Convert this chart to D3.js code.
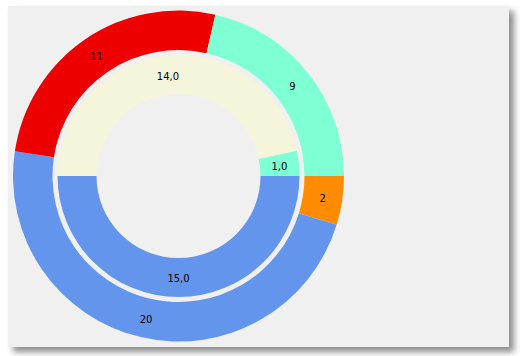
<!DOCTYPE html>
<html><head><meta charset="utf-8">
<script src="https://cdn.jsdelivr.net/npm/d3@7"></script>
<style>
html,body{margin:0;padding:0;background:#ffffff;}
svg{display:block;}
</style></head>
<body>
<script>
// Outer ring
const outerLabels = ["2", "20", "11", "9"];
const outerValues = [2, 20, 11, 9];
const outerColors = ["#ff8c00", "#6495ed", "#ef0000", "#7fffd4"];
// Inner ring
const innerLabels = ["15,0", "14,0", "1,0"];
const innerValues = [15, 14, 1];
const innerColors = ["#6495ed", "#f5f5dc", "#7fffd4"];

const W = 520, H = 356;
const svg = d3.select("body").append("svg").attr("width", W).attr("height", H);
const defs = svg.append("defs");
const f = defs.append("filter").attr("id", "sh").attr("x", "-5%").attr("y", "-5%").attr("width", "115%").attr("height", "115%");
f.append("feDropShadow").attr("dx", 5).attr("dy", 5).attr("stdDeviation", 3).attr("flood-color", "#000").attr("flood-opacity", 0.45);

svg.append("rect").attr("x", 8).attr("y", 6).attr("width", 501).attr("height", 341)
  .attr("fill", "#f0f0f0").attr("filter", "url(#sh)");

const cx = 178.5, cy = 176;
const g = svg.append("g").attr("transform", `translate(${cx},${cy})`);

function ring(values, labels, colors, r0, r1) {
  const pie = d3.pie().sort(null).startAngle(Math.PI / 2).endAngle(Math.PI / 2 + 2 * Math.PI);
  const arcs = pie(values);
  const arc = d3.arc().innerRadius(r0).outerRadius(r1);
  const gg = g.append("g");
  gg.selectAll("path").data(arcs).join("path")
    .attr("d", arc).attr("fill", (d, i) => colors[i]);
  gg.selectAll("text").data(arcs).join("text")
    .attr("transform", d => `translate(${arc.centroid(d)})`)
    .attr("text-anchor", "middle").attr("dy", "0.45em")
    .attr("font-family", "DejaVu Sans, Verdana, sans-serif").attr("font-size", 10)
    .attr("fill", "#000")
    .text((d, i) => labels[i]);
}
ring(outerValues, outerLabels, outerColors, 126, 165.5);
ring(innerValues, innerLabels, innerColors, 82, 121);
</script>
</body></html>
